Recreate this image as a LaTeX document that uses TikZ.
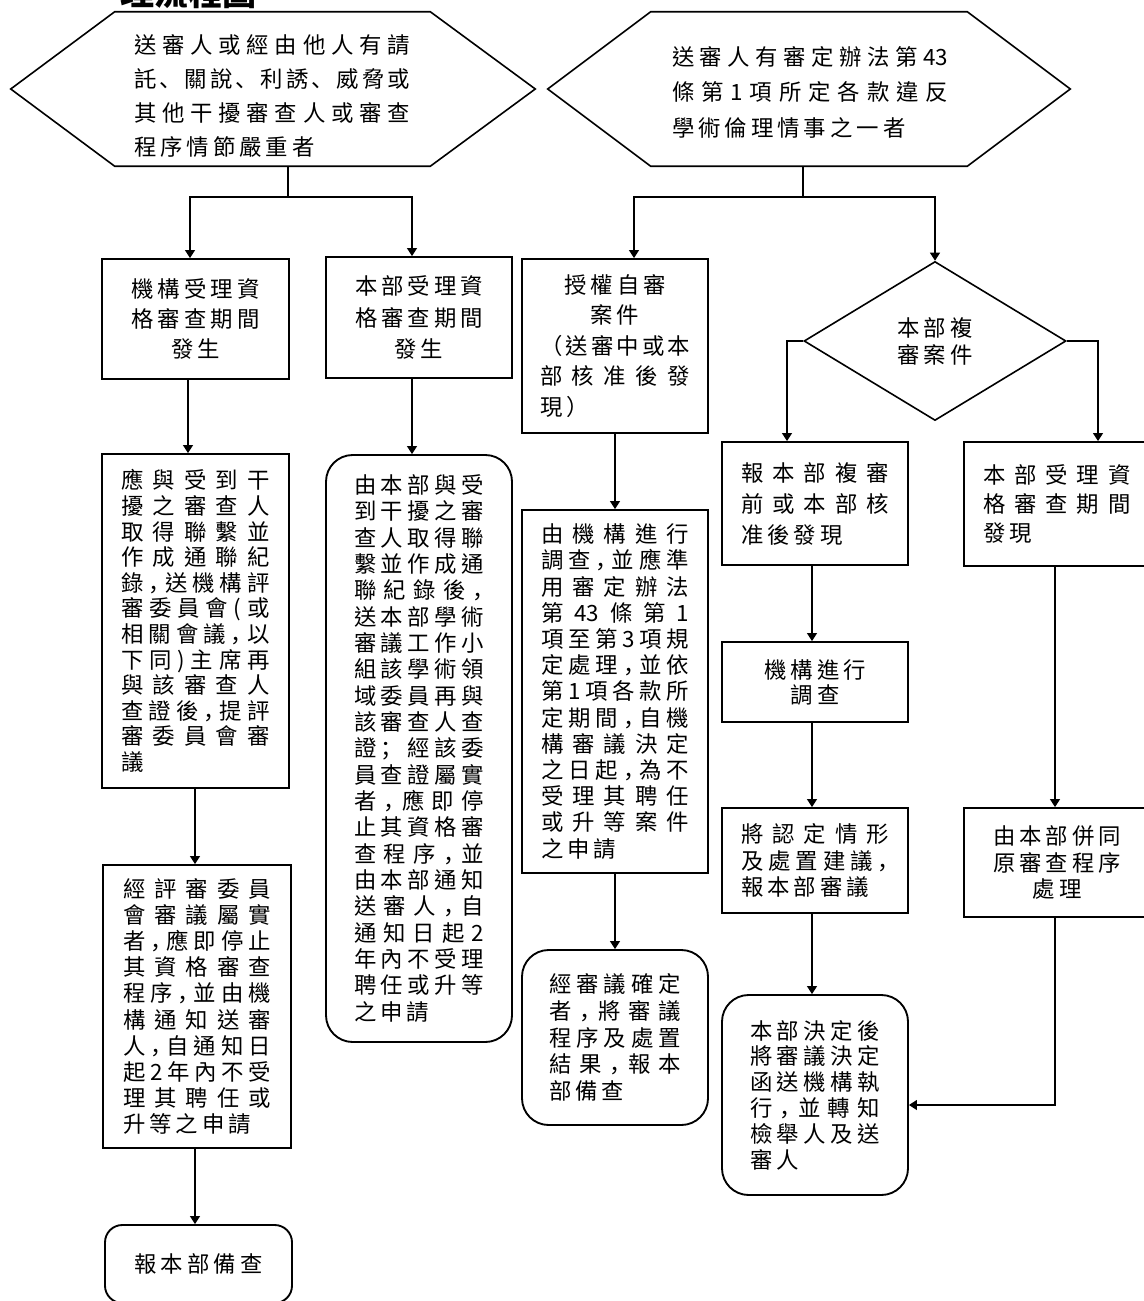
\documentclass[tikz,border=0pt]{standalone}
\usepackage{fontspec}
\newfontfamily\cjkf{Noto Sans CJK TC}
\newfontfamily\cjkpunct{Noto Sans CJK SC}
\usetikzlibrary{arrows.meta,shapes.geometric}
\makeatletter
\newlength\cjgap \setlength\cjgap{3pt}
\def\cj@loop#1#2\@nil{#1\ifx\relax#2\relax\expandafter\@gobble\else\expandafter\@firstofone\fi{\cj@sep\cj@loop#2\@nil}}
\newcommand\JL[1]{\makebox[\hsize][s]{\let\cj@sep\hfill\cj@loop#1\@nil}}
\newcommand\NL[1]{\mbox{\def\cj@sep{\hspace{\cjgap}}\cj@loop#1\@nil}}
\makeatother
\newcommand\cjcomma{\makebox[.5em][l]{\cjkpunct ，}}
\newcommand\cjdun{{\cjkpunct 、}}
\newcommand\cjsemi{{\cjkpunct ；}}
\newcommand\cjft{43}
\begin{document}
\begin{tikzpicture}[x=0.75pt,y=-0.75pt,
  box/.style={draw, line width=1.4pt, rectangle, inner sep=0pt, align=left},
  rbox/.style={box, rounded corners=20pt},
  tx/.style={font={\cjkf\fontsize{16.8pt}{#1}\selectfont\parindent=0pt\relax}},
  arr/.style={line width=0.8pt, -{Triangle[length=6pt,width=7.5pt]}},
  ln/.style={line width=0.8pt},
  hexl/.style={line width=1.2pt},
  hexr/.style={inner sep=0pt, minimum height=115.5pt}
]
\useasboundingbox (0,0) rectangle (1143,1301);

% title (clipped at the top, as in the reference)
\node[font={\cjkf\bfseries\fontsize{25.5pt}{30pt}\selectfont}, anchor=base west, inner sep=0pt] (title) at (120,5.5) {理流程圖};

% hexagons
\node[hexr, minimum width=236.25pt] (H1) at (272.5,89) {};
\draw[hexl] (H1.north west) -- (H1.north east) -- ([xshift=78.75pt]H1.east) -- (H1.south east) -- (H1.south west) -- ([xshift=-78pt]H1.west) -- cycle;
\node[tx=25.5pt, text width=207pt, align=left, inner sep=0pt] (H1t) at (272,96) {%
\JL{送審人或經由他人有請}\\
\JL{託\cjdun 關說\cjdun 利誘\cjdun 威脅或}\\
\JL{其他干擾審查人或審查}\\
\NL{程序情節嚴重者}};

\node[hexr, minimum width=237pt] (H2) at (809,89) {};
\draw[hexl] (H2.north west) -- (H2.north east) -- ([xshift=77.25pt]H2.east) -- (H2.south east) -- (H2.south west) -- ([xshift=-77.25pt]H2.west) -- cycle;
\node[tx=26.6pt, text width=207pt, align=left, inner sep=0pt] (H2t) at (810,92.5) {%
\JL{送審人有審定辦法第\cjft}\\
\JL{條第1項所定各款違反}\\
\NL{學術倫理情事之一者}};

% second row
\node[box, align=center, tx=22.5pt, minimum width=140.25pt, minimum height=90pt] (A) at (195.5,319) {\NL{機構受理資}\\\NL{格審查期間}\\\NL{發生}};
\node[box, align=center, tx=23.5pt, minimum width=139.5pt, minimum height=90.75pt] (B) at (419,317.5) {\NL{本部受理資}\\\NL{格審查期間}\\\NL{發生}};
\node[box, tx=22.9pt, text width=112.5pt, minimum width=139.5pt, minimum height=130.5pt] (C) at (615,346) {%
\makebox[\hsize]{\NL{授權自審}}\\
\makebox[\hsize]{\NL{案件}}\\
\JL{（送審中或本}\\
\JL{部核准後發}\\
\NL{現）}};
\node[diamond, draw, line width=1.2pt, inner sep=0pt, align=center, tx=20.25pt, minimum width=196.5pt, minimum height=119.25pt] (D) at (935,341) {\NL{本部複}\\\NL{審案件}};

\node[box, tx=23.25pt, text width=111pt, minimum width=139.5pt, minimum height=92.25pt] (E) at (815,503.5) {%
\JL{報本部複審}\\
\JL{前或本部核}\\
\NL{准後發現}};
\node[box, tx=22.1pt, text width=110.25pt, minimum width=139.5pt, minimum height=93pt] (F) at (1057,504) {%
\JL{本部受理資}\\
\JL{格審查期間}\\
\NL{發現}};

% left column
\node[box, tx=19.2pt, text width=111pt, minimum width=140.25pt, minimum height=250.5pt] (G) at (195.5,621) {%
\JL{應與受到干}\\
\JL{擾之審查人}\\
\JL{取得聯繫並}\\
\JL{作成通聯紀}\\
\JL{錄\cjcomma 送機構評}\\
\JL{審委員會(或}\\
\JL{相關會議\cjcomma 以}\\
\JL{下同)主席再}\\
\JL{與該審查人}\\
\JL{查證後\cjcomma 提評}\\
\JL{審委員會審}\\
\NL{議}};
\node[box, tx=19.6pt, text width=111pt, minimum width=141pt, minimum height=212.25pt] (N) at (197,1006.5) {%
\JL{經評審委員}\\
\JL{會審議屬實}\\
\JL{者\cjcomma 應即停止}\\
\JL{其資格審查}\\
\JL{程序\cjcomma 並由機}\\
\JL{構通知送審}\\
\JL{人\cjcomma 自通知日}\\
\JL{起2年內不受}\\
\JL{理其聘任或}\\
\NL{升等之申請}};
\node[box, rounded corners=13pt, align=center, tx=20pt, minimum width=140.25pt, minimum height=58.5pt] (O) at (198.5,1264) {\NL{報本部備查}};

% second column
\node[rbox, tx=19.75pt, text width=97.5pt, minimum width=139.5pt, minimum height=440.25pt] (P) at (419,748.5) {%
\JL{由本部與受}\\
\JL{到干擾之審}\\
\JL{查人取得聯}\\
\JL{繫並作成通}\\
\JL{聯紀錄後\cjcomma}\\
\JL{送本部學術}\\
\JL{審議工作小}\\
\JL{組該學術領}\\
\JL{域委員再與}\\
\JL{該審查人查}\\
\JL{證\cjsemi 經該委}\\
\JL{員查證屬實}\\
\JL{者\cjcomma 應即停}\\
\JL{止其資格審}\\
\JL{查程序\cjcomma 並}\\
\JL{由本部通知}\\
\JL{送審人\cjcomma 自}\\
\JL{通知日起2}\\
\JL{年內不受理}\\
\JL{聘任或升等}\\
\NL{之申請}};

% third column
\node[box, tx=19.65pt, text width=111pt, minimum width=139.5pt, minimum height=272.25pt] (Hb) at (615,691.5) {%
\JL{由機構進行}\\
\JL{調查\cjcomma 並應準}\\
\JL{用審定辦法}\\
\JL{第\cjft 條第1}\\
\JL{項至第3項規}\\
\JL{定處理\cjcomma 並依}\\
\JL{第1項各款所}\\
\JL{定期間\cjcomma 自機}\\
\JL{構審議決定}\\
\JL{之日起\cjcomma 為不}\\
\JL{受理其聘任}\\
\JL{或升等案件}\\
\NL{之申請}};
\node[rbox, tx=20.1pt, text width=99pt, minimum width=139.5pt, minimum height=131.25pt] (I) at (615,1037.5) {%
\JL{經審議確定}\\
\JL{者\cjcomma 將審議}\\
\JL{程序及處置}\\
\JL{結果\cjcomma 報本}\\
\NL{部備查}};

% fourth column
\node[box, align=center, tx=18.75pt, minimum width=139.5pt, minimum height=60pt] (J) at (815,682) {\NL{機構進行}\\\NL{調查}};
\node[box, tx=19.9pt, text width=111pt, minimum width=139.5pt, minimum height=78.75pt] (K) at (815,860.5) {%
\JL{將認定情形}\\
\JL{及處置建議\cjcomma}\\
\NL{報本部審議}};
\node[rbox, tx=19.35pt, text width=97.5pt, minimum width=139.5pt, minimum height=150pt] (L) at (815,1095) {%
\JL{本部決定後}\\
\JL{將審議決定}\\
\JL{函送機構執}\\
\JL{行\cjcomma 並轉知}\\
\JL{檢舉人及送}\\
\NL{審人}};

% fifth column
\node[box, align=center, tx=19.9pt, minimum width=139.5pt, minimum height=81.75pt] (M) at (1057,862.5) {\NL{由本部併同}\\\NL{原審查程序}\\\NL{處理}};

% helper coordinates
\coordinate (j1) at (288,197);
\coordinate (j2) at (803,197);
\coordinate (xA) at (190,0);
\coordinate (xB) at (412,0);
\coordinate (xAG) at (188,0);
\coordinate (xGN) at (195,0);
\coordinate (xC) at (634,0);
\coordinate (xE) at (787,0);
\coordinate (xF) at (1098,0);
\coordinate (xEK) at (812,0);
\coordinate (xFM) at (1055,0);
\coordinate (yML) at (0,1105);

% connectors
\draw[ln] (H1.south -| j1) -- (j1);
\draw[arr] (j1) -| (xA |- A.north);
\draw[arr] (j1) -| (xB |- B.north);
\draw[ln] (H2.south -| j2) -- (j2);
\draw[arr] (j2) -| (xC |- C.north);
\draw[arr] (j2) -| (D.north);

\draw[arr] (A.south -| xAG) -- (G.north -| xAG);
\draw[arr] (G.south -| xGN) -- (N.north -| xGN);
\draw[arr] (N.south -| xGN) -- (O.north -| xGN);
\draw[arr] (B.south -| xB) -- (P.north -| xB);
\draw[arr] (C.south) -- (Hb.north);
\draw[arr] (Hb.south) -- (I.north);
\draw[arr] (D.west) -| (xE |- E.north);
\draw[arr] (D.east) -| (xF |- F.north);
\draw[arr] (E.south -| xEK) -- (J.north -| xEK);
\draw[arr] (J.south -| xEK) -- (K.north -| xEK);
\draw[arr] (K.south -| xEK) -- (L.north -| xEK);
\draw[arr] (F.south -| xFM) -- (M.north -| xFM);
\draw[arr] (M.south -| xFM) |- (L.east |- yML);
\end{tikzpicture}
\end{document}
